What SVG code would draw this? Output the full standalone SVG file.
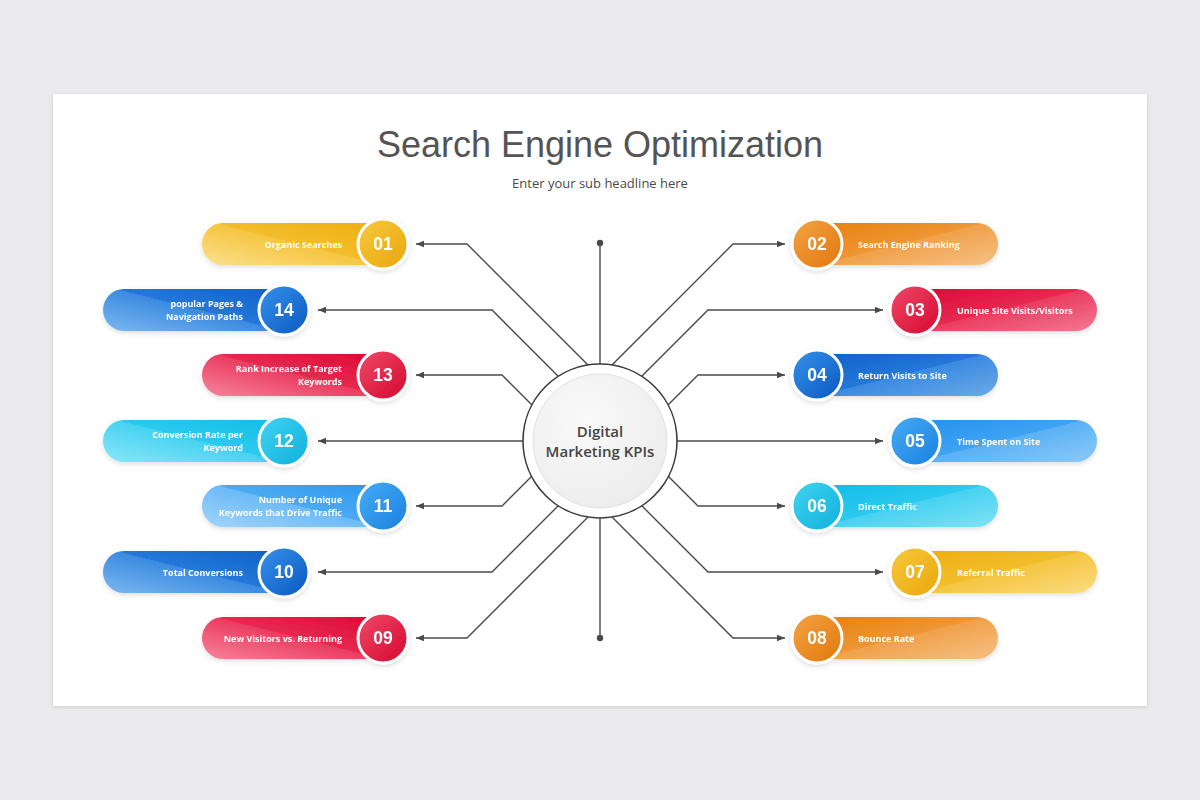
<svg xmlns="http://www.w3.org/2000/svg" width="1200" height="800" viewBox="0 0 1200 800">
<style>
.t{font-family:"Open Sans","Liberation Sans",sans-serif;font-weight:700;font-size:9px;fill:#fff}
.n{font-family:"Liberation Sans",Arial,sans-serif;font-weight:700;font-size:17.5px;fill:#fff;text-anchor:middle}
.ring{stroke:#fff;stroke-width:3}
.c{fill:none;stroke:#4a4a4a;stroke-width:1.4}
</style>
<defs>
<filter id="cardsh" x="-5%" y="-5%" width="110%" height="110%"><feDropShadow dx="0" dy="1" stdDeviation="2" flood-color="#000" flood-opacity="0.12"/></filter>
<filter id="sh" x="-10%" y="-30%" width="120%" height="160%"><feDropShadow dx="0" dy="2" stdDeviation="2.5" flood-color="#000" flood-opacity="0.13"/></filter>
<marker id="ar" viewBox="0 0 10 10" refX="10" refY="5" markerWidth="8" markerHeight="8" markerUnits="userSpaceOnUse" orient="auto"><path d="M0,1 L10,5 L0,9 z" fill="#4a4a4a"/></marker>
<!-- pill gradients left side -->
<linearGradient id="pyL" x1="0" y1="1" x2="1" y2="0.07"><stop offset="0" stop-color="#fbe08e"/><stop offset="0.536" stop-color="#f5c540"/><stop offset="0.536" stop-color="#f3bd2c"/><stop offset="1" stop-color="#eeaf12"/></linearGradient>
<linearGradient id="prL" x1="0" y1="1" x2="1" y2="0.07"><stop offset="0" stop-color="#f7849c"/><stop offset="0.536" stop-color="#ea3c60"/><stop offset="0.536" stop-color="#e62a50"/><stop offset="1" stop-color="#dc0a36"/></linearGradient>
<linearGradient id="pbL" x1="0" y1="1" x2="1" y2="0.07"><stop offset="0" stop-color="#7ab8f0"/><stop offset="0.536" stop-color="#3b8ae0"/><stop offset="0.536" stop-color="#2478d8"/><stop offset="1" stop-color="#0f62c8"/></linearGradient>
<linearGradient id="pcL" x1="0" y1="1" x2="1" y2="0.07"><stop offset="0" stop-color="#8ae6f8"/><stop offset="0.536" stop-color="#46d2f0"/><stop offset="0.536" stop-color="#2ccaee"/><stop offset="1" stop-color="#12bde6"/></linearGradient>
<linearGradient id="plL" x1="0" y1="1" x2="1" y2="0.07"><stop offset="0" stop-color="#a3d5fa"/><stop offset="0.536" stop-color="#6bbaf6"/><stop offset="0.536" stop-color="#4eaaf3"/><stop offset="1" stop-color="#2b98ef"/></linearGradient>
<!-- pill gradients right side -->
<linearGradient id="poR" x1="1" y1="1" x2="0" y2="0.07"><stop offset="0" stop-color="#f6c084"/><stop offset="0.536" stop-color="#f0a14a"/><stop offset="0.536" stop-color="#ee9635"/><stop offset="1" stop-color="#e8820f"/></linearGradient>
<linearGradient id="prR" x1="1" y1="1" x2="0" y2="0.07"><stop offset="0" stop-color="#f27a94"/><stop offset="0.536" stop-color="#ea3c60"/><stop offset="0.536" stop-color="#e62a50"/><stop offset="1" stop-color="#dc0a36"/></linearGradient>
<linearGradient id="pbR" x1="1" y1="1" x2="0" y2="0.07"><stop offset="0" stop-color="#6aaae8"/><stop offset="0.536" stop-color="#3b8ae0"/><stop offset="0.536" stop-color="#2478d8"/><stop offset="1" stop-color="#0f62c8"/></linearGradient>
<linearGradient id="pmR" x1="1" y1="1" x2="0" y2="0.07"><stop offset="0" stop-color="#8ccaf8"/><stop offset="0.536" stop-color="#5ab1f4"/><stop offset="0.536" stop-color="#40a3f2"/><stop offset="1" stop-color="#2592ee"/></linearGradient>
<linearGradient id="pcR" x1="1" y1="1" x2="0" y2="0.07"><stop offset="0" stop-color="#80e2f6"/><stop offset="0.536" stop-color="#46d2f0"/><stop offset="0.536" stop-color="#2ccaee"/><stop offset="1" stop-color="#12bde6"/></linearGradient>
<linearGradient id="pyR" x1="1" y1="1" x2="0" y2="0.07"><stop offset="0" stop-color="#fadb80"/><stop offset="0.536" stop-color="#f5c540"/><stop offset="0.536" stop-color="#f3bd2c"/><stop offset="1" stop-color="#eeaf12"/></linearGradient>
<!-- circle gradients -->
<linearGradient id="cy" x1="0" y1="0" x2="1" y2="1"><stop offset="0" stop-color="#f7c93f"/><stop offset="1" stop-color="#e9a60a"/></linearGradient>
<linearGradient id="co" x1="0" y1="0" x2="1" y2="1"><stop offset="0" stop-color="#f3a445"/><stop offset="1" stop-color="#e2770c"/></linearGradient>
<linearGradient id="cr" x1="0" y1="0" x2="1" y2="1"><stop offset="0" stop-color="#f04a6a"/><stop offset="1" stop-color="#d4072f"/></linearGradient>
<linearGradient id="cb" x1="0" y1="0" x2="1" y2="1"><stop offset="0" stop-color="#3692ea"/><stop offset="1" stop-color="#0b58c0"/></linearGradient>
<linearGradient id="cm" x1="0" y1="0" x2="1" y2="1"><stop offset="0" stop-color="#46acf5"/><stop offset="1" stop-color="#1a80e0"/></linearGradient>
<linearGradient id="cc" x1="0" y1="0" x2="1" y2="1"><stop offset="0" stop-color="#40d4f3"/><stop offset="1" stop-color="#10b0da"/></linearGradient>
<radialGradient id="cin" cx="0.4" cy="0.35" r="0.7"><stop offset="0" stop-color="#fafafa"/><stop offset="1" stop-color="#ececec"/></radialGradient>
</defs>

<rect x="0" y="0" width="1200" height="800" fill="#ebebed"/>
<rect x="53" y="94" width="1094" height="612" fill="#fff" filter="url(#cardsh)"/>

<text x="600" y="157" text-anchor="middle" font-family="Liberation Sans, Arial, sans-serif" font-size="36" fill="#545454">Search Engine Optimization</text>
<text x="600" y="188" text-anchor="middle" font-family="Open Sans, Liberation Sans, sans-serif" font-size="13" fill="#4a4a4a">Enter your sub headline here</text>

<g id="connectors">
<path class="c" d="M595,372 L467,244 H416" marker-end="url(#ar)"/>
<path class="c" d="M565,383 L492,310 H318" marker-end="url(#ar)"/>
<path class="c" d="M535,408 L502,375 H416" marker-end="url(#ar)"/>
<path class="c" d="M530,441 H318" marker-end="url(#ar)"/>
<path class="c" d="M536,472 L502,506 H416" marker-end="url(#ar)"/>
<path class="c" d="M565,499 L492,572 H318" marker-end="url(#ar)"/>
<path class="c" d="M595,510 L467,638 H416" marker-end="url(#ar)"/>
<path class="c" d="M605,372 L733,244 H785" marker-end="url(#ar)"/>
<path class="c" d="M635,383 L708,310 H883" marker-end="url(#ar)"/>
<path class="c" d="M665,408 L698,375 H785" marker-end="url(#ar)"/>
<path class="c" d="M670,441 H883" marker-end="url(#ar)"/>
<path class="c" d="M664,472 L698,506 H785" marker-end="url(#ar)"/>
<path class="c" d="M635,499 L708,572 H883" marker-end="url(#ar)"/>
<path class="c" d="M605,510 L733,638 H785" marker-end="url(#ar)"/>
<path class="c" d="M600,243 V380"/>
<path class="c" d="M600,500 V638"/>
<circle cx="600" cy="243" r="3.2" fill="#4a4a4a"/>
<circle cx="600" cy="638" r="3.2" fill="#4a4a4a"/>
</g>

<g id="center">
<circle cx="600" cy="441" r="77" fill="#fff" stroke="#3d3d3d" stroke-width="1.6"/>
<circle cx="600" cy="441" r="67" fill="url(#cin)" stroke="#e2e2e2" stroke-width="1"/>
<text x="600" y="437" text-anchor="middle" font-family="Open Sans, Liberation Sans, sans-serif" font-weight="600" font-size="15" fill="#444">Digital</text>
<text x="600" y="457" text-anchor="middle" font-family="Open Sans, Liberation Sans, sans-serif" font-weight="600" font-size="15" fill="#444">Marketing KPIs</text>
</g>

<g id="node01" filter="url(#sh)">
<path d="M383,223 H223 A21 21 0 0 0 223,265 H383 Z" fill="url(#pyL)"/>
<circle class="ring" cx="383" cy="244" r="25" fill="url(#cy)"/>
<text class="n" x="383" y="250">01</text>
<text class="t" x="342" y="247.5" text-anchor="end">Organic Searches</text>
</g>
<g id="node14" filter="url(#sh)">
<path d="M284,289 H124 A21 21 0 0 0 124,331 H284 Z" fill="url(#pbL)"/>
<circle class="ring" cx="284" cy="310" r="25" fill="url(#cb)"/>
<text class="n" x="284" y="316">14</text>
<text class="t" x="243" y="307" text-anchor="end">popular Pages &amp;</text>
<text class="t" x="243" y="320" text-anchor="end">Navigation Paths</text>
</g>
<g id="node13" filter="url(#sh)">
<path d="M383,354 H223 A21 21 0 0 0 223,396 H383 Z" fill="url(#prL)"/>
<circle class="ring" cx="383" cy="375" r="25" fill="url(#cr)"/>
<text class="n" x="383" y="381">13</text>
<text class="t" x="342" y="372" text-anchor="end">Rank Increase of Target</text>
<text class="t" x="342" y="385" text-anchor="end">Keywords</text>
</g>
<g id="node12" filter="url(#sh)">
<path d="M284,420 H124 A21 21 0 0 0 124,462 H284 Z" fill="url(#pcL)"/>
<circle class="ring" cx="284" cy="441" r="25" fill="url(#cc)"/>
<text class="n" x="284" y="447">12</text>
<text class="t" x="243" y="438" text-anchor="end">Conversion Rate per</text>
<text class="t" x="243" y="451" text-anchor="end">Keyword</text>
</g>
<g id="node11" filter="url(#sh)">
<path d="M383,485 H223 A21 21 0 0 0 223,527 H383 Z" fill="url(#plL)"/>
<circle class="ring" cx="383" cy="506" r="25" fill="url(#cm)"/>
<text class="n" x="383" y="512">11</text>
<text class="t" x="342" y="503" text-anchor="end">Number of Unique</text>
<text class="t" x="342" y="516" text-anchor="end">Keywords that Drive Traffic</text>
</g>
<g id="node10" filter="url(#sh)">
<path d="M284,551 H124 A21 21 0 0 0 124,593 H284 Z" fill="url(#pbL)"/>
<circle class="ring" cx="284" cy="572" r="25" fill="url(#cb)"/>
<text class="n" x="284" y="578">10</text>
<text class="t" x="243" y="575.5" text-anchor="end">Total Conversions</text>
</g>
<g id="node09" filter="url(#sh)">
<path d="M383,617 H223 A21 21 0 0 0 223,659 H383 Z" fill="url(#prL)"/>
<circle class="ring" cx="383" cy="638" r="25" fill="url(#cr)"/>
<text class="n" x="383" y="644">09</text>
<text class="t" x="342" y="641.5" text-anchor="end">New Visitors vs. Returning</text>
</g>

<g id="node02" filter="url(#sh)">
<path d="M817,223 H977 A21 21 0 0 1 977,265 H817 Z" fill="url(#poR)"/>
<circle class="ring" cx="817" cy="244" r="25" fill="url(#co)"/>
<text class="n" x="817" y="250">02</text>
<text class="t" x="858" y="247.5">Search Engine Ranking</text>
</g>
<g id="node03" filter="url(#sh)">
<path d="M915,289 H1076 A21 21 0 0 1 1076,331 H915 Z" fill="url(#prR)"/>
<circle class="ring" cx="915" cy="310" r="25" fill="url(#cr)"/>
<text class="n" x="915" y="316">03</text>
<text class="t" x="957" y="313.5">Unique Site Visits/Visitors</text>
</g>
<g id="node04" filter="url(#sh)">
<path d="M817,354 H977 A21 21 0 0 1 977,396 H817 Z" fill="url(#pbR)"/>
<circle class="ring" cx="817" cy="375" r="25" fill="url(#cb)"/>
<text class="n" x="817" y="381">04</text>
<text class="t" x="858" y="378.5">Return Visits to Site</text>
</g>
<g id="node05" filter="url(#sh)">
<path d="M915,420 H1076 A21 21 0 0 1 1076,462 H915 Z" fill="url(#pmR)"/>
<circle class="ring" cx="915" cy="441" r="25" fill="url(#cm)"/>
<text class="n" x="915" y="447">05</text>
<text class="t" x="957" y="444.5">Time Spent on Site</text>
</g>
<g id="node06" filter="url(#sh)">
<path d="M817,485 H977 A21 21 0 0 1 977,527 H817 Z" fill="url(#pcR)"/>
<circle class="ring" cx="817" cy="506" r="25" fill="url(#cc)"/>
<text class="n" x="817" y="512">06</text>
<text class="t" x="858" y="509.5">Direct Traffic</text>
</g>
<g id="node07" filter="url(#sh)">
<path d="M915,551 H1076 A21 21 0 0 1 1076,593 H915 Z" fill="url(#pyR)"/>
<circle class="ring" cx="915" cy="572" r="25" fill="url(#cy)"/>
<text class="n" x="915" y="578">07</text>
<text class="t" x="957" y="575.5">Referral Traffic</text>
</g>
<g id="node08" filter="url(#sh)">
<path d="M817,617 H977 A21 21 0 0 1 977,659 H817 Z" fill="url(#poR)"/>
<circle class="ring" cx="817" cy="638" r="25" fill="url(#co)"/>
<text class="n" x="817" y="644">08</text>
<text class="t" x="858" y="641.5">Bounce Rate</text>
</g>
</svg>
